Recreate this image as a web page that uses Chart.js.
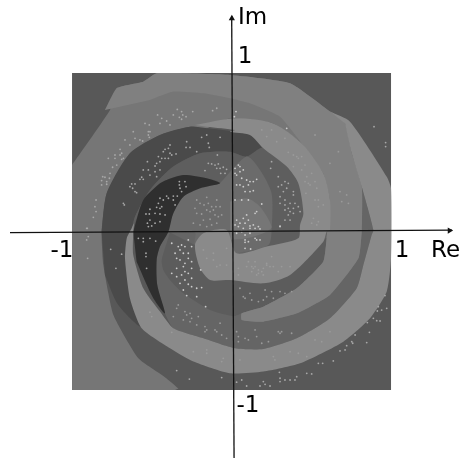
<!DOCTYPE html>
<html>
<head>
<meta charset="utf-8">
<style>
  html, body { margin: 0; padding: 0; background: #fff; }
  canvas { display: block; }
</style>
<script src="https://cdn.jsdelivr.net/npm/chart.js@4/dist/chart.umd.min.js"></script>
</head>
<body>
<canvas id="myChart" width="461" height="459"></canvas>
<script>
// everything below is in complex plane units (re, im)

var squareRegion = [[-1.006,1],[1,1],[1,-.994],[-1.006,-.994]];

var lowerRegion = [[.816,.285],[.889,.013],[.878,-.019],[.826,-.208],[.784,-.354],[.616,-.543],[.407,-.669],[.197,-.736],
  [.019,-.732],[-.18,-.669],[-.369,-.606],[-.421,-.512],[-.47,-.333],[-.474,-.176],[-.453,-.092],[-.4,.002],
  [-.348,.096],[-.243,.201],[-.075,.306],[.3,.4]];

var innerDarkRegion = [[-.39,-.004],[-.442,-.176],[-.432,-.239],[-.39,-.302],[-.306,-.386],[-.138,-.491],[.01,-.53],
  [.061,-.512],[.197,-.47],[.407,-.354],[.574,-.187],[.595,-.04],[.2,-.2],[-.2,-.1]];

var outerRegion = [[-1.006,.421],[-.767,.767],[-.725,.904],[-.558,.945],[-.474,.998],[-.013,.987],[.365,.935],[.616,.757],
  [.711,.683],[.753,.495],[.816,.285],[.816,.013],[.795,-.166],[.616,-.396],[.407,-.512],[.197,-.564],[.061,-.553],
  [.061,-.512],[.197,-.47],[.407,-.354],[.574,-.187],[.595,-.04],[.616,.201],[.574,.369],[.438,.558],[.26,.683],
  [-.013,.715],[-.159,.652],[-.264,.662],[-.453,.61],[-.642,.495],[-.788,.243],[-.82,.002],[-.809,-.208],[-.746,-.522],
  [-.589,-.795],[-.42,-.915],[-.338,-.985],[-.36,-.994],[-1.006,-.994]];

var topBandRegion = [[-.799,.767],[-.725,.904],[-.558,.945],[-.474,.998],[-.013,.987],[.365,.935],[.616,.757],[.711,.683],
  [.753,.495],[.816,.285],[.816,.013],[.795,-.166],[.616,-.396],[.407,-.512],[.197,-.564],[.061,-.553],[.061,-.512],
  [.197,-.47],[.407,-.354],[.574,-.187],[.595,-.04],[.616,.201],[.574,.369],[.438,.558],[.302,.725],[.113,.809],
  [-.013,.841],[-.18,.872],[-.369,.883],[-.516,.83]];

var darkRingRegion = [[-.82,.002],[-.788,.243],[-.642,.495],[-.453,.61],[-.264,.662],[-.159,.652],[.019,.631],[.113,.61],
  [.197,.532],[.092,.474],[-.013,.505],[-.201,.495],[-.369,.411],[-.516,.264],[-.61,.096],[-.631,.002],[-.662,-.187],
  [-.568,-.595],[-.715,-.459],[-.799,-.27]];

var midRegion = [[-.631,.002],[-.61,.096],[-.516,.264],[-.369,.411],[-.201,.495],[-.013,.505],[.092,.474],[.197,.532],
  [.344,.411],[.417,.306],[.449,.117],[.428,.013],[.417,-.04],[.218,-.092],[0,0],[-.075,.306],[-.159,.338],[-.306,.358],
  [-.411,.327],[-.516,.243],[-.558,.201]];

var coreRegion = [[-.075,.306],[.092,.474],[.176,.39],[.249,.243],[.249,.013],[.229,-.082],[.029,-.134],[-.1,-.15],
  [-.233,-.08],[-.233,-.004],[-.4,.002],[-.369,.117],[-.306,.222],[-.201,.275]];

var centerRegion = [[-.013,.191],[.092,.212],[.176,.159],[.249,.034],[.218,.002],[.092,-.04],[-.013,-.05]];

var blackRegion = [[-.621,.002],[-.558,.201],[-.453,.306],[-.411,.327],[-.306,.358],[-.159,.338],[-.075,.306],[-.201,.275],
  [-.306,.222],[-.369,.117],[-.4,.002],[-.453,-.092],[-.474,-.176],[-.47,-.333],[-.421,-.512],[-.495,-.417],[-.6,-.187]];

var lightRingRegion = [[-.233,.673],[.019,.715],[.26,.683],[.438,.558],[.574,.369],[.616,.201],[.616,.013],[.595,.002],
  [.574,-.061],[.365,-.27],[.197,-.323],[-.013,-.302],[-.138,-.302],[-.201,-.229],[-.233,-.082],[-.18,-.008],[-.034,.013],
  [.029,-.134],[.218,-.092],[.417,-.04],[.428,.044],[.449,.117],[.417,.306],[.344,.411],[.197,.526],[.113,.61],[-.013,.631],
  [.019,.641],[-.159,.662]];

var lightBandRegion = [[.616,.757],[.742,.694],[.973,.348],[1,.275],[1,-.166],[.973,-.375],[.868,-.543],[.7,-.69],[.428,-.826],
  [.197,-.878],[-.013,-.889],[-.243,-.815],[-.39,-.732],[-.568,-.606],[-.642,-.417],[-.673,-.166],[-.662,-.04],[-.631,.023],
  [-.616,.055],[-.621,.002],[-.621,-.145],[-.558,-.354],[-.453,-.501],[-.369,-.606],[-.18,-.669],[.019,-.732],[.197,-.736],
  [.407,-.669],[.616,-.543],[.784,-.354],[.826,-.208],[.878,-.019],[.889,.013],[.816,.285],[.753,.495],[.711,.683]];

var brightDots = [[.029,.075],[.05,.055],[.071,.086],[.082,.055],[.103,.075],[.092,.107],[.113,.038],[.134,.044],[.166,.034],
  [.04,.034],[.071,.023],[.019,.044],[.145,.117],[.155,.128],[.103,.201],[.029,-.008],[.082,-.019],[.113,-.008],[.145,-.04],
  [.155,-.05],[.176,-.05],[.082,-.05],[.082,-.065],[.103,-.061],[.082,-.103],[.117,-.107],[.061,.002],[.145,.023],[.113,.023],
  [.176,.019],[.302,.034],[-.379,-.071],[-.358,-.134],[-.338,-.092],[-.317,-.082],[-.275,-.05],[-.296,-.092],[-.327,-.113],
  [-.348,-.166],[-.306,-.134],[-.275,-.134],[-.254,-.092],[-.327,-.176],[-.296,-.197],[-.306,-.218],[-.348,-.229],[-.275,-.166],
  [-.254,-.187],[-.296,-.249],[-.275,-.26],[-.379,-.26],[-.317,-.27],[-.348,-.281],[-.296,-.302],[-.254,-.291],[-.327,-.323],
  [-.275,-.329],[-.306,-.365],[-.254,-.344],[-.222,-.354],[-.191,-.35],[-.285,-.4],[-.222,-.407],[-.166,-.47],[-.197,-.239],
  [-.254,-.229],[.04,.421],[.05,.411],[.019,.4],[.05,.379],[.019,.369],[.071,.39],[.029,.358],[.061,.338],[.092,.327],[.05,.296],
  [.071,.285],[.113,.317],[.103,.296],[.134,.317],[.155,.331],[.082,.254],[.113,.254],[.134,.26],[.029,.296],[.061,.201],
  [.187,.176],[.019,.201],[.025,.757],[.015,.725],[.344,.652]];

var midDots = [[-.468,.736],[-.442,.715],[-.411,.698],[-.453,.683],[-.39,.673],[-.369,.736],[-.344,.771],[-.317,.757],[-.31,.736],
  [-.331,.721],[-.289,.725],[-.317,.709],[-.247,.757],[-.122,.763],[-.096,.778],[-.547,.683],[-.52,.673],[-.526,.631],[-.516,.631],
  [-.526,.61],[-.52,.595],[-.621,.631],[-.579,.579],[-.61,.589],[-.673,.579],[-.562,.572],[-.642,.547],[-.704,.52],[-.704,.484],
  [-.694,.495],[-.683,.463],[-.736,.484],[-.736,.463],[-.778,.463],[-.694,.457],[-.725,.421],[-.751,.407],[-.813,.348],[-.799,.344],
  [-.767,.369],[-.82,.323],[-.788,.317],[-.771,.338],[-.82,.296],[-.788,.3],[-.855,.201],[-.862,.159],[-.855,.128],[-.872,.092],
  [-.91,.023],[-.285,.568],[-.289,.532],[-.264,.532],[-.222,.505],[-.191,.595],[-.159,.61],[-.075,.595],[-.149,.558],[-.143,.532],
  [-.39,.547],[-.4,.526],[-.421,.52],[-.432,.505],[-.39,.495],[-.379,.484],[-.352,.491],[-.463,.474],[-.442,.463],[-.421,.463],
  [-.4,.463],[-.453,.442],[-.474,.432],[-.484,.415],[-.532,.442],[-.558,.39],[-.526,.39],[-.516,.358],[-.484,.379],[-.453,.39],
  [-.474,.348],[-.568,.344],[-.579,.331],[-.558,.331],[-.631,.302],[-.61,.302],[-.642,.285],[-.625,.275],[-.61,.254],[-.6,.247],
  [-.683,.18],[-.677,.17],[-.17,.386],[-.149,.432],[-.128,.428],[-.107,.421],[-.086,.428],[-.096,.4],[-.075,.4],[-.055,.407],
  [-.034,.394],[-.044,.369],[-.071,.369],[-.092,.484],[-.331,.317],[-.331,.296],[-.296,.317],[-.327,.275],[-.289,.285],[-.317,.254],
  [-.453,.212],[-.411,.226],[-.369,.226],[-.344,.226],[-.463,.18],[-.432,.201],[-.4,.212],[-.474,.155],[-.442,.159],[-.453,.149],
  [-.369,.201],[-.358,.17],[-.516,.143],[-.541,.113],[-.52,.113],[-.484,.117],[-.453,.113],[-.421,.107],[-.516,.075],[-.532,.055],
  [-.484,.055],[-.453,.065],[-.505,.038],[-.526,.034],[-.589,-.04],[-.558,-.04],[-.558,-.061],[-.516,-.04],[-.48,-.057],[-.541,-.134],
  [-.541,-.155],[-.537,-.229],[.291,.348],[.333,.317],[.312,.296],[.354,.306],[.291,.285],[.344,.275],[.386,.254],[.323,.254],
  [.302,.222],[.386,.233],[.333,.201],[.302,.18],[.333,.17],[.365,.18],[.396,.18],[.354,.149],[.386,.149],[.417,.159],[.333,.138],
  [.365,.128],[.354,.107],[.386,.117],[.428,.128],[.333,.075],[.365,.075],[.302,.038],[.249,.442],[.243,.4],[.893,.662],[.966,.562],
  [.966,.537],[.962,-.4],[.92,-.47],[.973,-.48],[.914,-.497],[.941,-.491],[.889,-.543],[.91,-.558],[.931,-.56],[.851,-.57],[.864,-.631],
  [.774,-.648],[.753,-.69],[.759,-.7],[.721,-.715],[.711,-.742],[.679,-.748],[.847,-.696],[.637,-.811],[.543,-.826],[.57,-.826],
  [.47,-.889],[.501,-.893],[.407,-.91],[.396,-.931],[.365,-.931],[.333,-.931],[.302,-.92],[.302,-.941],[.298,-.883],[.197,-.941],
  [.208,-.958],[.239,-.969],[.176,-.969],[.092,-.969],[.061,-.931],[.029,-.945],[-.348,-.872],[-.268,-.925],[-.065,-.916],
  [-.914,.023],[-.904,-.029],[-.914,-.05],[-.908,-.166],[-.763,-.109],[-.694,-.14],[-.73,-.229]];

var dimDots = [[-.222,.201],[-.159,.218],[-.233,.149],[-.201,.18],[-.176,.17],[-.149,.18],[-.128,.159],[-.101,.159],[-.096,.201],
  [-.075,.159],[-.222,.117],[-.191,.113],[-.159,.138],[-.138,.128],[-.117,.138],[-.107,.107],[-.086,.096],[-.065,.107],[-.18,.075],
  [-.138,.08],[-.096,.055],[-.243,.055],[-.128,.044],[-.201,.044],[-.159,.034],[.187,.642],[.249,.642],[.218,.6],[.333,.589],[.281,.568],
  [.386,.484],[.354,.501],[.407,.474],[.438,.474],[.417,.463],[.386,.411],[.459,.421],[.438,.39],[.501,.369],[.47,.348],[.459,.317],
  [.48,.306],[.491,.296],[.522,.317],[.533,.275],[.465,.243],[.522,.201],[.543,.201],[.574,.17],[.543,.159],[.512,.086],[.543,.065],
  [.533,.044],[.501,.055],[.679,.254],[.721,.233],[.69,.191],[.732,.18],[.522,.61],[.669,.505],[.616,.432],[.04,-.229],[.092,-.218],
  [.124,-.218],[.134,-.229],[.145,-.218],[.166,-.239],[.187,-.249],[.197,-.229],[.166,-.26],[.197,-.27],[.155,-.27],[.218,-.208],
  [.239,-.218],[.26,-.218],[.249,-.155],[.218,-.197],[.312,-.218],[.365,-.218],[.291,-.249],[.04,-.27],[.103,-.187],[.145,-.187],
  [.124,-.249],[.071,-.407],[.082,-.417],[.113,-.386],[.166,-.438],[.197,-.428],[.218,-.407],[.249,-.375],[.26,-.417],[.302,-.375],
  [.333,-.386],[.375,-.375],[.208,-.365],[.05,-.354],[.124,-.428],[.029,-.627],[.04,-.658],[.04,-.69],[.082,-.669],[.103,-.679],
  [.145,-.616],[.155,-.658],[.291,-.627],[.312,-.627],[.302,-.637],[.375,-.637],[.229,-.69],[.187,-.7],[.05,-.805],[.26,-.784],
  [.27,-.805],[.365,-.753],[.417,-.763],[.522,-.679],[.616,-.627],[.564,-.69],[.47,-.784],[-.516,-.505],[-.505,-.532],[-.379,-.631],
  [-.243,-.753],[-.159,-.763],[-.055,-.795],[-.065,-.815],[-.159,-.742],[-.338,-.459],[-.348,-.48],[-.296,-.501],[-.264,-.512],
  [-.285,-.522],[-.212,-.532],[-.254,-.543],[-.369,-.532],[-.306,-.553],[-.264,-.564],[-.222,-.585],[-.17,-.595],[-.159,-.616],
  [-.17,-.627],[-.107,-.616],[-.096,-.627],[-.075,-.574],[-.065,-.648],[-.034,-.669],[-.18,-.113],[-.117,-.134],[-.075,-.208],
  [-.159,-.166],[-.117,-.176],[-.096,-.218],[-.034,-.103],[-.034,-.208]];

var reAxis = [[-1.396,-.004],[1.384,.011]];
var imAxis = [[.013,-1.421],[-.002,1.358]];
var reTicks = [-1, 1];
var imTicks = [1, -1];
var reTickLabels = ["-1", "1"];
var imTickLabels = ["1", "-1"];
var reTitle = "Re";
var imTitle = "Im";

function toPoints(list) {
  return list.map(function(p) {
    return { x: p[0], y: p[1] };
  });
}

// paint order, back to front
var regions = [
  { data: squareRegion, color: "#585858", tension: 0 },
  { data: lowerRegion, color: "#656565", tension: 0.2 },
  { data: innerDarkRegion, color: "#5c5c5c", tension: 0.2 },
  { data: outerRegion, color: "#767676", tension: 0.15 },
  { data: topBandRegion, color: "#808080", tension: 0.15 },
  { data: darkRingRegion, color: "#4a4a4a", tension: 0.25 },
  { data: midRegion, color: "#5e5e5e", tension: 0.25 },
  { data: coreRegion, color: "#6b6b6b", tension: 0.25 },
  { data: centerRegion, color: "#767676", tension: 0.3 },
  { data: blackRegion, color: "#2f2f2f", tension: 0.25 },
  { data: lightRingRegion, color: "#8a8a8a", tension: 0.25 },
  { data: lightBandRegion, color: "#8a8a8a", tension: 0.2 }
];

var datasets = [];

regions.forEach(function(region, i) {
  datasets.push({
    data: toPoints(region.data),
    showLine: true,
    fill: "shape",
    tension: region.tension,
    backgroundColor: region.color,
    borderWidth: 0,
    pointRadius: 0,
    order: 100 - i
  });
});

[[dimDots, "#9a9a9a"], [midDots, "#a8a8a8"], [brightDots, "#cccccc"]].forEach(function(group, i) {
  datasets.push({
    data: toPoints(group[0]),
    pointRadius: 0.9,
    pointBorderWidth: 0,
    pointBackgroundColor: group[1],
    order: 50 - i
  });
});

[reAxis, imAxis].forEach(function(axis) {
  datasets.push({
    data: toPoints(axis),
    showLine: true,
    borderColor: "#111",
    borderWidth: 1.3,
    pointRadius: 0,
    order: 10
  });
});

// arrow heads sit just behind the axis ends
datasets.push({
  data: [{ x: 1.368, y: .009 }],
  pointStyle: "triangle",
  pointRadius: 3.6,
  pointRotation: 90,
  pointBackgroundColor: "#111",
  pointBorderWidth: 0,
  order: 5
});
datasets.push({
  data: [{ x: -.001, y: 1.343 }],
  pointStyle: "triangle",
  pointRadius: 3.6,
  pointRotation: 0,
  pointBackgroundColor: "#111",
  pointBorderWidth: 0,
  order: 5
});

var axisText = {
  id: "axisText",
  afterDraw: function(chart) {
    var ctx = chart.ctx;
    var x = chart.scales.x;
    var y = chart.scales.y;
    var origin = y.getPixelForValue(0);
    var middle = x.getPixelForValue(0);
    ctx.save();
    ctx.fillStyle = "#000";
    ctx.font = "23px 'DejaVu Sans'";
    ctx.textBaseline = "alphabetic";
    ctx.textAlign = "center";
    reTicks.forEach(function(t, i) {
      ctx.fillText(reTickLabels[i], x.getPixelForValue(t) + (t < 0 ? -11 : 11), origin + 25);
    });
    imTicks.forEach(function(t, i) {
      ctx.fillText(imTickLabels[i], middle + (t < 0 ? 16 : 13), y.getPixelForValue(t) + (t < 0 ? 21 : -10));
    });
    ctx.textAlign = "left";
    ctx.fillText(reTitle, 431, origin + 25);
    ctx.fillText(imTitle, middle + 6, 24);
    ctx.restore();
  }
};

var chart = new Chart(document.getElementById("myChart"), {
  type: "scatter",
  data: { datasets: datasets },
  options: {
    responsive: false,
    animation: false,
    layout: { padding: 0, autoPadding: false },
    plugins: { legend: { display: false }, tooltip: { enabled: false } },
    scales: {
      x: { type: "linear", display: false, min: -1.459, max: 1.44 },
      y: { type: "linear", display: false, min: -1.428, max: 1.459 }
    }
  },
  plugins: [axisText]
});
</script>
</body>
</html>
